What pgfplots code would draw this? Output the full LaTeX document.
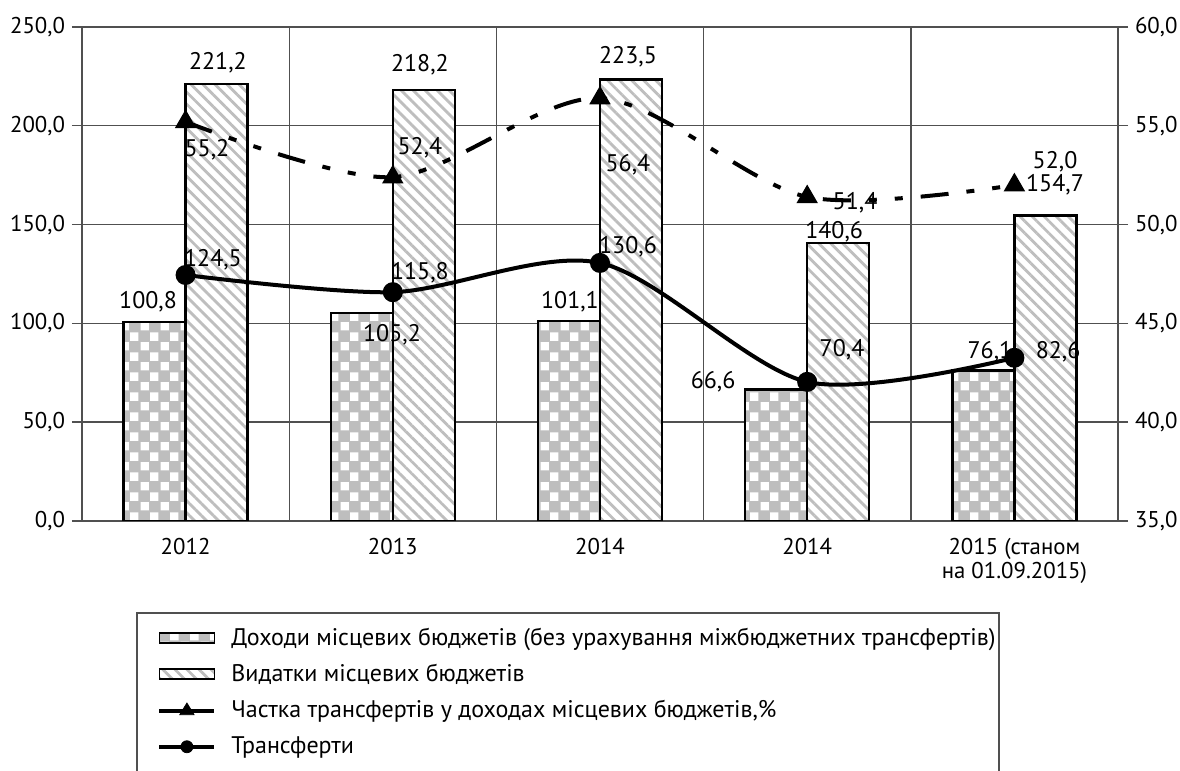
\documentclass[border=0pt]{standalone}
\usepackage{fontspec}
\setmainfont{PT Sans}
\usepackage{pgfplots}
\pgfplotsset{compat=1.18}
\usetikzlibrary{patterns.meta}
\definecolor{pgray}{RGB}{190,190,190}
\definecolor{gline}{RGB}{80,80,80}
\tikzdeclarepattern{
  name=checker, type=uncolored,
  bounding box={(0,0) and (10pt,10pt)},
  tile size={(10pt,10pt)},
  code={
    \pgfpathrectangle{\pgfpoint{0.3pt}{0.3pt}}{\pgfpoint{4.4pt}{4.4pt}}
    \pgfpathrectangle{\pgfpoint{5.3pt}{5.3pt}}{\pgfpoint{4.4pt}{4.4pt}}
    \pgfusepath{fill}
  }
}
\tikzset{
  stripes/.style={fill=white, postaction={pattern={Lines[angle=-45, distance=4.25pt, line width=1.4pt]}, pattern color=pgray}},
  checks/.style={fill=pgray, postaction={pattern=checker, pattern color=white}},
  lbl/.style={font=\fontsize{12}{13}\selectfont, inner sep=0pt}
}
\pgfplotsset{
  common/.style={
    at={(41pt,125pt)}, anchor=south west,
    scale only axis, width=518pt, height=247pt,
    xmin=-0.5, xmax=4.5,
    tick align=outside,
    tick label style={font=\fontsize{11.4}{12.4}\selectfont},
    axis line style={gline, line width=0.7pt},
    /pgf/number format/fixed,
    /pgf/number format/fixed zerofill,
    /pgf/number format/precision=1,
    /pgf/number format/use comma,
    /pgf/number format/assume math mode=true,
    major tick length=5pt,
    every tick/.style={gline, line width=0.7pt},
  }
}
\begin{document}
\begin{tikzpicture}
\useasboundingbox (0,0) rectangle (590pt,385.5pt);
\begin{axis}[common,
  ymin=0, ymax=250,
  ytick={0,50,...,250},
  ymajorgrids,
  grid style={gline, line width=0.7pt},
  xtick={0,1,2,3,4},
  xticklabels={2012,2013,2014,2014,{2015 (станом\\на 01.09.2015)}},
  xticklabel style={align=center, font=\fontsize{11.4}{12}\selectfont},
  x tick style={draw=none},
  extra x ticks={-0.5,0.5,1.5,2.5,3.5,4.5},
  extra x tick labels={},
  extra x tick style={xmajorgrids=true, major tick length=3pt, tick style={gline, line width=0.7pt}},
  axis y line*=left,
  axis x line*=bottom,
  legend style={at={(axis description cs:0.0724,-0.207)}, anchor=north west,
    draw=none, fill=none, inner sep=0pt, row sep=4pt,
    font=\fontsize{12}{13}\selectfont, cells={anchor=west}},
]
\addplot[forget plot, ybar, bar width=31pt, bar shift=-15.5pt, draw=black, line width=1.2pt, checks]
  coordinates {(0,100.8) (1,105.2) (2,101.1) (3,66.6) (4,76.1)};
\addplot[forget plot, ybar, bar width=31pt, bar shift=15.5pt, draw=black, line width=1.2pt, stripes]
  coordinates {(0,221.2) (1,218.2) (2,223.5) (3,140.6) (4,154.7)};
\addplot[forget plot, black, line width=2pt, smooth, mark=*, mark size=4pt]
  coordinates {(0,124.5) (1,115.8) (2,130.6) (3,70.4) (4,82.6)};

\addlegendimage{legend image code/.code={\draw[black, line width=0.8pt, checks] (-1pt,-2.5pt) rectangle (26.5pt,2.5pt); \path[draw=none, fill=none] (0pt,0pt) -- (33pt,0pt);}}
\addlegendentry{Доходи місцевих бюджетів (без урахування міжбюджетних трансфертів)}
\addlegendimage{legend image code/.code={\draw[black, line width=0.8pt, stripes] (-1pt,-2.5pt) rectangle (26.5pt,2.5pt); \path[draw=none, fill=none] (0pt,0pt) -- (33pt,0pt);}}
\addlegendentry{Видатки місцевих бюджетів}
\addlegendimage{legend image code/.code={\draw[black, line width=2pt] (-1pt,0pt) -- (26.5pt,0pt); \fill[black] (12.75pt,3.8pt) -- (9.2pt,-2pt) -- (16.3pt,-2pt) -- cycle; \path[draw=none, fill=none] (0pt,0pt) -- (33pt,0pt);}}
\addlegendentry{Частка трансфертів у доходах місцевих бюджетів,\%}
\addlegendimage{legend image code/.code={\draw[black, line width=2pt] (-1pt,0pt) -- (26.5pt,0pt); \fill[black] (12.75pt,0pt) circle (3pt); \path[draw=none, fill=none] (0pt,0pt) -- (33pt,0pt);}}
\addlegendentry{Трансферти}

% data labels
\node[lbl] at (axis cs:-0.181,110.8) {100,8};
\node[lbl] at (axis cs:0.996,94.1) {105,2};
\node[lbl] at (axis cs:1.855,110.8) {101,1};
\node[lbl] at (axis cs:2.546,70.3) {66,6};
\node[lbl] at (axis cs:3.882,85.5) {76,1};
\node[lbl] at (axis cs:0.156,231.8) {221,2};
\node[lbl] at (axis cs:1.131,230.8) {218,2};
\node[lbl] at (axis cs:2.135,234.8) {223,5};
\node[lbl] at (axis cs:3.130,146.3) {140,6};
\node[lbl] at (axis cs:4.196,170.0) {154,7};
\node[lbl] at (axis cs:0.132,132.1) {124,5};
\node[lbl] at (axis cs:1.131,125.5) {115,8};
\node[lbl] at (axis cs:2.135,138.7) {130,6};
\node[lbl] at (axis cs:3.168,86.5) {70,4};
\node[lbl] at (axis cs:4.211,85.5) {82,6};
\node[lbl] at (axis cs:0.103,187.8) {55,2};
\node[lbl] at (axis cs:1.131,188.8) {52,4};
\node[lbl] at (axis cs:2.135,180.2) {56,4};
\node[lbl] at (axis cs:3.231,160.9) {51,4};
\node[lbl] at (axis cs:4.196,181.7) {52,0};
\end{axis}
\begin{axis}[common,
  ymin=35, ymax=60,
  ytick={35,40,...,60},
  axis y line*=right,
  axis x line=none,
]
\addplot[black, line width=2pt, smooth, dash pattern=on 14pt off 9pt on 4pt off 9pt on 4pt off 9pt,
  mark=triangle*, mark size=4.2pt, mark options={solid}]
  coordinates {(0,55.2) (1,52.4) (2,56.4) (3,51.4) (4,52.0)};
\end{axis}
\draw[gline, line width=0.7pt] (68.5pt,-20pt) -- (68.5pt,79pt) -- (499.5pt,79pt) -- (499.5pt,-20pt);
\end{tikzpicture}
\end{document}
